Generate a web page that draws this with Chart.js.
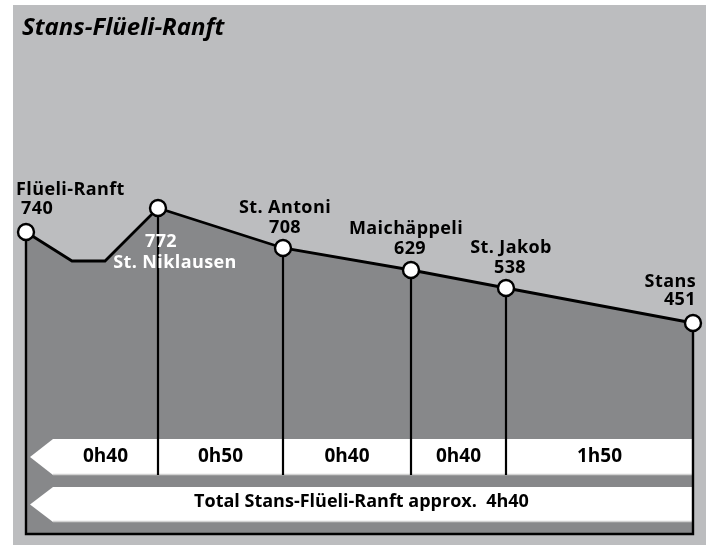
<!DOCTYPE html>
<html>
<head>
<meta charset="utf-8">
<script src="https://cdn.jsdelivr.net/npm/chart.js@4/dist/chart.umd.min.js"></script>
<style>
  html, body { margin: 0; padding: 0; background: #ffffff; }
  #c { display: block; }
</style>
</head>
<body>
<canvas id="c" width="706" height="545"></canvas>
<script>
// ---- Data ----
const chartTitle = 'Stans-Flüeli-Ranft';
// Stops along the route
const stopNames = ['Flüeli-Ranft', 'St. Niklausen', 'St. Antoni', 'Maichäppeli', 'St. Jakob', 'Stans'];
const stopElevations = [740, 772, 708, 629, 538, 451];
// Position of stops along the (schematic) route axis
const stopDistance = [0, 132, 257, 385, 480, 667];
// Schematic profile as drawn (route position and drawn height)
const profileDistance = [0, 46, 79, 132, 257, 385, 480, 667];
const profileHeight   = [302, 273, 273, 326, 286, 264, 246, 211];
// Stop heights (drawn) for markers
const stopHeight = [302, 326, 286, 264, 246, 211];
// Walking times between consecutive stops
const segmentTimes = ['0h40', '0h50', '0h40', '0h40', '1h50'];
const totalLabel = 'Total Stans-Flüeli-Ranft approx.  4h40';

// ---- Styles ----
const LIGHT = '#bcbdbf';
const DARK = '#87888a';
const FONT = '"Open Sans", "Noto Sans", sans-serif';
// label layout per stop (offsets from the marker centre)
const labelLayout = [
  { align: 'left',   nx: -10, ny: -37, vx: -5, vy: -18, color: '#000' },
  { align: 'center', nx: 17,  ny: 60,  vx: 3,  vy: 39,  color: '#fff' },
  { align: 'center', nx: 2,   ny: -35, vx: 2,  vy: -15, color: '#000' },
  { align: 'center', nx: -5,  ny: -36, vx: -1, vy: -16, color: '#000' },
  { align: 'center', nx: 5,   ny: -35, vx: 4,  vy: -15, color: '#000' },
  { align: 'right',  nx: 3,   ny: -36, vx: 3,  vy: -18, color: '#000' }
];

const profilePts = profileDistance.map((d, i) => ({ x: d, y: profileHeight[i] }));
const stopPts = stopDistance.map((d, i) => ({ x: d, y: stopHeight[i] }));

const decor = {
  id: 'decor',
  beforeDraw(chart) {
    const ctx = chart.ctx;
    ctx.save();
    ctx.fillStyle = '#ffffff';
    ctx.fillRect(0, 0, chart.width, chart.height);
    ctx.fillStyle = LIGHT;
    ctx.fillRect(13, 5, chart.width - 13, chart.height - 5);
    ctx.restore();
  },
  beforeDatasetDraw(chart, args) {
    if (args.index !== 0) return;
    const ctx = chart.ctx;
    const a = chart.chartArea;
    const xs = chart.scales.x, ys = chart.scales.y;
    const bands = [
      { top: a.bottom - 95, bot: a.bottom - 59 },
      { top: a.bottom - 47, bot: a.bottom - 12 }
    ];
    ctx.save();
    // white arrow bands
    bands.forEach(b => {
      ctx.beginPath();
      ctx.moveTo(a.left + 27, b.top);
      ctx.lineTo(a.right, b.top);
      ctx.lineTo(a.right, b.bot);
      ctx.lineTo(a.left + 27, b.bot);
      ctx.lineTo(a.left + 4, (b.top + b.bot) / 2);
      ctx.closePath();
      ctx.fillStyle = '#ffffff';
      ctx.fill();
      ctx.strokeStyle = '#d2d2d2';
      ctx.lineWidth = 1.5;
      ctx.beginPath();
      ctx.moveTo(a.left + 27, b.bot - 0.5);
      ctx.lineTo(a.right, b.bot - 0.5);
      ctx.stroke();
    });
    // vertical separators at intermediate stops
    ctx.strokeStyle = '#000';
    ctx.lineWidth = 2.2;
    for (let i = 1; i < stopDistance.length - 1; i++) {
      const x = Math.round(xs.getPixelForValue(stopDistance[i]));
      ctx.beginPath();
      ctx.moveTo(x, ys.getPixelForValue(stopHeight[i]));
      ctx.lineTo(x, bands[0].bot);
      ctx.stroke();
    }
    // frame
    ctx.lineWidth = 2.4;
    ctx.beginPath();
    ctx.moveTo(a.left, ys.getPixelForValue(stopHeight[0]));
    ctx.lineTo(a.left, a.bottom);
    ctx.lineTo(a.right, a.bottom);
    ctx.lineTo(a.right, ys.getPixelForValue(stopHeight[stopHeight.length - 1]));
    ctx.stroke();
    ctx.restore();
  },
  afterDatasetsDraw(chart) {
    const ctx = chart.ctx;
    const a = chart.chartArea;
    const xs = chart.scales.x, ys = chart.scales.y;
    ctx.save();
    // title
    ctx.fillStyle = '#000';
    ctx.textAlign = 'left';
    ctx.textBaseline = 'alphabetic';
    ctx.font = 'italic bold 24px ' + FONT;
    ctx.fillText(chartTitle, 22, 35);
    // stop labels
    ctx.font = 'bold 18px ' + FONT;
    try { ctx.letterSpacing = '0.4px'; } catch (e) {}
    stopNames.forEach((name, i) => {
      const L = labelLayout[i];
      const px = xs.getPixelForValue(stopDistance[i]);
      const py = ys.getPixelForValue(stopHeight[i]);
      ctx.fillStyle = L.color;
      ctx.textAlign = L.align;
      ctx.fillText(name, px + L.nx, py + L.ny);
      ctx.fillText(String(stopElevations[i]), px + L.vx, py + L.vy);
    });
    try { ctx.letterSpacing = '0px'; } catch (e) {}
    // band texts
    ctx.fillStyle = '#000';
    ctx.textAlign = 'center';
    ctx.font = 'bold 19px ' + FONT;
    const bounds = [a.left + 27].concat(stopDistance.slice(1, -1).map(d => xs.getPixelForValue(d)), [a.right]);
    segmentTimes.forEach((t, i) => {
      ctx.fillText(t, (bounds[i] + bounds[i + 1]) / 2, a.bottom - 72);
    });
    ctx.font = 'bold 18px ' + FONT;
    ctx.fillText(totalLabel, (a.left + 4 + a.right) / 2, a.bottom - 27);
    ctx.restore();
  }
};

new Chart(document.getElementById('c'), {
  type: 'line',
  data: {
    datasets: [
      {
        label: 'stops',
        data: stopPts,
        showLine: false,
        pointRadius: 8,
        pointHoverRadius: 8,
        pointBackgroundColor: '#ffffff',
        pointBorderColor: '#000000',
        pointBorderWidth: 2.4,
        clip: false
      },
      {
        label: 'profile',
        data: profilePts,
        borderColor: '#000000',
        borderWidth: 2.8,
        backgroundColor: DARK,
        fill: 'origin',
        pointRadius: 0,
        tension: 0,
        clip: false
      }
    ]
  },
  options: {
    responsive: false,
    animation: false,
    devicePixelRatio: 1,
    layout: { padding: { left: 26, right: 13, top: 34, bottom: 11 } },
    scales: {
      x: { type: 'linear', display: false, min: 0, max: 667 },
      y: { type: 'linear', display: false, min: 0, max: 500 }
    },
    plugins: {
      legend: { display: false },
      tooltip: { enabled: false },
      title: { display: false }
    }
  },
  plugins: [decor]
});
</script>
</body>
</html>
